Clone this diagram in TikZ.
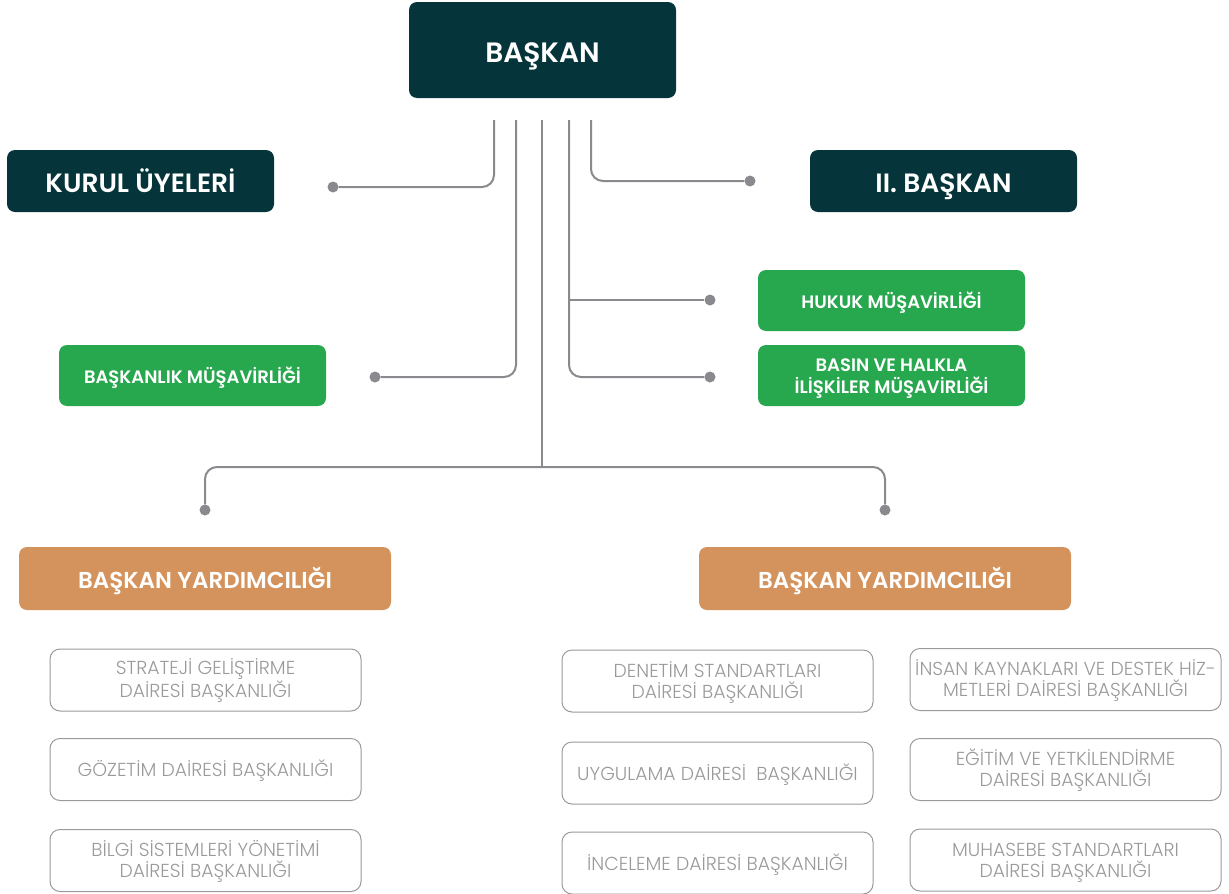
\documentclass[tikz,border=0pt]{standalone}
\usepackage{fontspec}
\setmainfont{Poppins}[BoldFont={Poppins SemiBold}]
\newfontfamily\ince{Poppins Light}

\definecolor{koyu}{HTML}{05353A}
\definecolor{yesil}{HTML}{27A84E}
\definecolor{turuncu}{HTML}{D4935C}
\definecolor{cizgi}{HTML}{8A8A8E}
\definecolor{yazi}{HTML}{9A9A9A}

\tikzset{
  kutu/.style={rounded corners=8pt, inner sep=0pt, align=center, text=white,
    text depth=0pt},
  ana/.style={kutu, fill=koyu, minimum width=267pt, minimum height=62pt,
    font=\bfseries\fontsize{26.5}{30}\selectfont, text height=23pt},
  musavir/.style={kutu, fill=yesil, minimum width=267pt, minimum height=61pt,
    font=\bfseries\fontsize{18}{22}\selectfont, text height=16pt},
  yardimci/.style={kutu, fill=turuncu, minimum width=372pt, minimum height=63pt,
    font=\bfseries\fontsize{23}{26}\selectfont, text height=19pt},
  daire/.style={draw=yazi, line width=1pt, rounded corners=10pt, inner sep=0pt,
    minimum width=311pt, minimum height=62pt, align=center, text=yazi,
    font=\ince\fontsize{18.8}{21}\selectfont, text height=14pt, text depth=0pt},
  hat/.style={draw=cizgi, line width=2pt, rounded corners=12pt},
  nokta/.style={circle, fill=cizgi, inner sep=0pt, minimum size=11pt},
}

\begin{document}
\begin{tikzpicture}[x=1pt,y=-1pt]

\useasboundingbox (0,0) rectangle (1229,894);
% \draw[red,step=100] (0,0) grid (1229,894);

\node[ana, minimum height=96pt, font=\bfseries\fontsize{28}{32}\selectfont, text height=24pt]
  (baskan) at (542.5,50) {BAŞKAN};
\node[ana] (kurul) at (140.5,181) {KURUL ÜYELERİ};
\node[ana] (ikinci) at (943.5,181) {II. BAŞKAN};

\node[musavir] (hukuk) at (891.5,300.5) {HUKUK MÜŞAVİRLİĞİ};
\node[musavir, text height=36pt] (basin) at (891.5,375.5) {BASIN VE HALKLA\\İLİŞKİLER MÜŞAVİRLİĞİ};
\node[musavir] (bmus) at (192.5,375.5) {BAŞKANLIK MÜŞAVİRLİĞİ};

\node[yardimci] (ysol) at (205,578.5) {BAŞKAN YARDIMCILIĞI};
\node[yardimci] (ysag) at (885,578.5) {BAŞKAN YARDIMCILIĞI};

\tikzset{iki/.style={text height=34.5pt}}
\node[daire, iki] (strateji) at (205.5,680) {STRATEJİ GELİŞTİRME\\DAİRESİ BAŞKANLIĞI};
\node[daire] (gozetim) at (205.5,769.5) {GÖZETİM DAİRESİ BAŞKANLIĞI};
\node[daire, iki] (bilgi) at (205.5,860.5) {BİLGİ SİSTEMLERİ YÖNETİMİ\\DAİRESİ BAŞKANLIĞI};

\node[daire, iki] (denetim) at (717.5,681) {DENETİM STANDARTLARI\\DAİRESİ BAŞKANLIĞI};
\node[daire] (uygulama) at (717.5,773) {UYGULAMA DAİRESİ~ BAŞKANLIĞI};
\node[daire] (inceleme) at (717.5,863) {İNCELEME DAİRESİ BAŞKANLIĞI};

\node[daire, iki] (insan) at (1065.5,679.5) {İNSAN KAYNAKLARI VE DESTEK HİZ-\\METLERİ DAİRESİ BAŞKANLIĞI};
\node[daire, iki] (egitim) at (1065.5,769.5) {EĞİTİM VE YETKİLENDİRME\\DAİRESİ BAŞKANLIĞI};
\node[daire, iki] (muhasebe) at (1065.5,860) {MUHASEBE STANDARTLARI\\DAİRESİ BAŞKANLIĞI};

% hatlar
\coordinate (h1) at (494,120);
\coordinate (h2) at (516,120);
\coordinate (h3) at (542,120);
\coordinate (h4) at (569,120);
\coordinate (h5) at (591,120);
\coordinate (orta) at (542,467);
\coordinate (kol) at (569,300);

\node[nokta] (n1) at (333,187) {};
\node[nokta] (n2) at (375,377) {};
\node[nokta] (n3) at (205,510) {};
\node[nokta] (n4) at (885,510) {};
\node[nokta] (n5) at (710,300) {};
\node[nokta] (n6) at (710,377) {};
\node[nokta] (n7) at (750,181) {};

\draw[hat] (h1) |- (n1);
\draw[hat] (h2) |- (n2);
\draw[hat] (h3) -- (orta);
\draw[hat] (n3) |- (orta) -| (n4);
\draw[hat] (h4) |- (n6);
\draw[hat] (kol) -- (n5);
\draw[hat] (h5) |- (n7);

\end{tikzpicture}
\end{document}
